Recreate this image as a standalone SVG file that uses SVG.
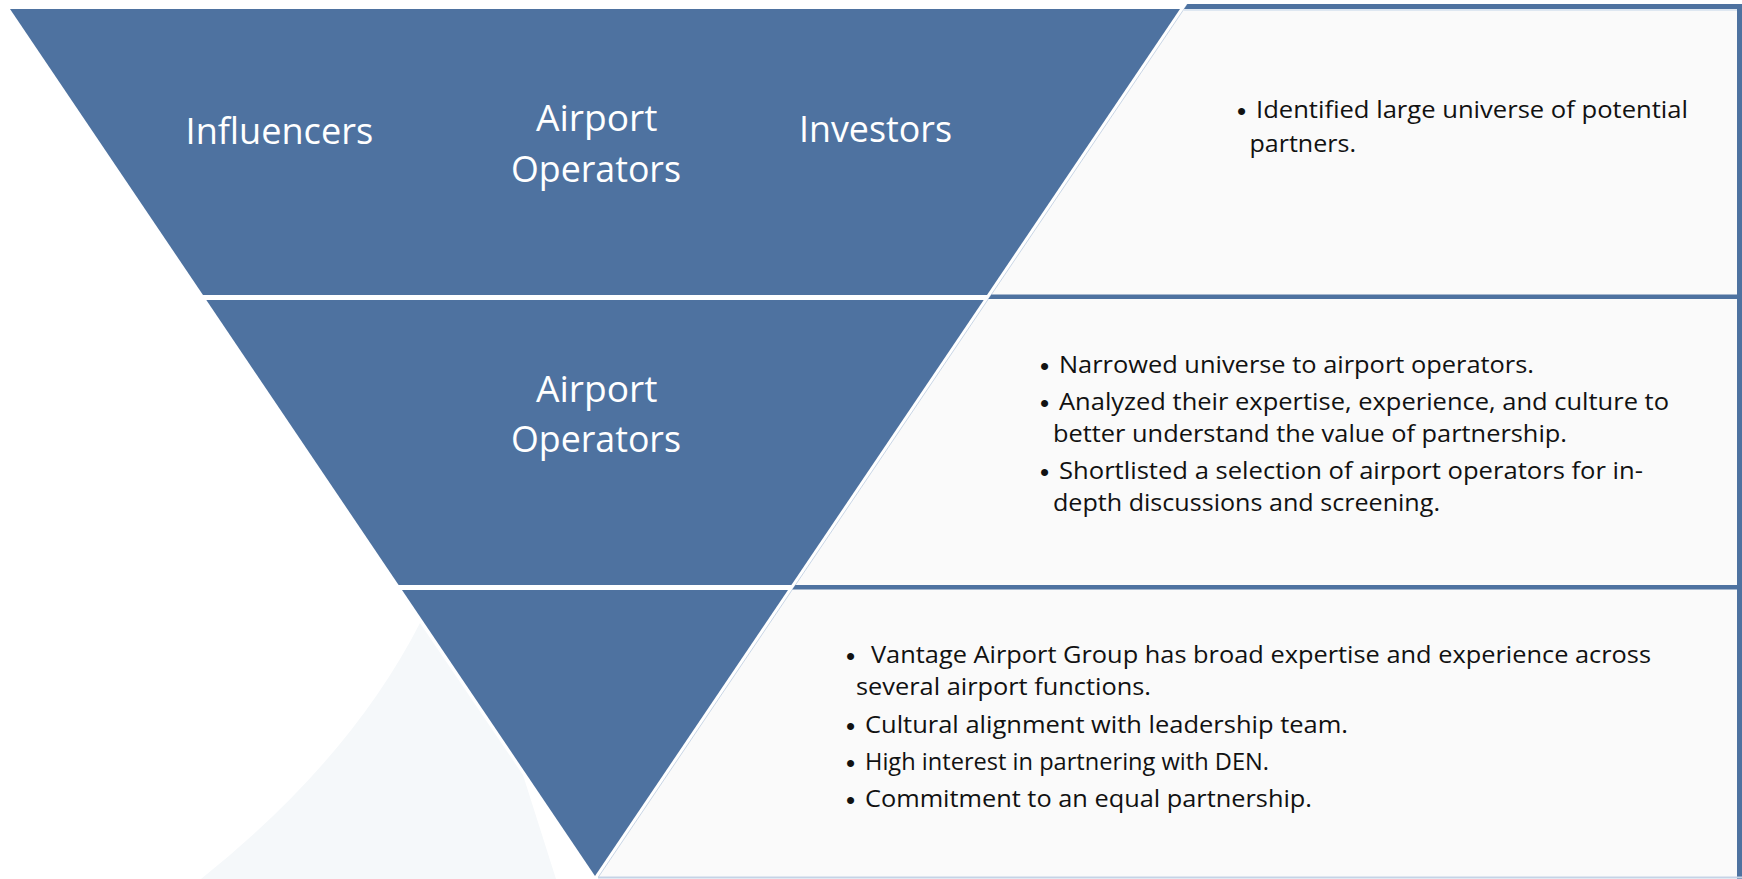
<svg xmlns="http://www.w3.org/2000/svg" width="1742" height="879" viewBox="0 0 1742 879">
  <style>
    .band { fill: #4e72a0; }
    .blue { fill: #4e72a0; }
    .title { font-family: "Open Sans", "Liberation Sans", sans-serif; font-size: 36px; fill: #ffffff; }
    .body { font-family: "Open Sans", "Liberation Sans", sans-serif; font-size: 24px; fill: #111111; }
    .bul { font-family: "Liberation Sans", sans-serif; font-size: 26px; fill: #111111; }
  </style>
  <rect x="0" y="0" width="1742" height="879" fill="#ffffff"/>
  <path d="M201,879 Q350,760 420,623 L523,775 L556,879 Z" fill="#f5f8fa"/>

  <g id="panels">
    <polygon points="1187.4,4 1742,4 1742,877 598.4,877" fill="#fafafa"/>
    <line x1="1187.4" y1="4" x2="598.4" y2="877" stroke="#c9d6e6" stroke-width="1"/>
    <polygon class="blue" points="1187.4,4 1742,4 1742,9 1184,9"/>
    <line x1="1184" y1="10" x2="1737" y2="10" stroke="#d5e0ee" stroke-width="1.5"/>
    <polygon class="blue" points="991.4,294.5 1742,294.5 1742,299 988.3,299"/>
    <polygon class="blue" points="795.4,585 1742,585 1742,589.5 792.3,589.5"/>
    <rect class="blue" x="1737" y="4" width="5" height="875"/>
    <line x1="598" y1="877.5" x2="1742" y2="877.5" stroke="#c5d3e6" stroke-width="2"/>
  </g>

  <g id="band1">
    <polygon class="band" points="10,9 1180,9 987,295 203,295"/>
    <text class="title" x="185.6" y="144" textLength="187.5" lengthAdjust="spacingAndGlyphs">Influencers</text>
    <text class="title" x="536" y="131" textLength="121.5" lengthAdjust="spacingAndGlyphs">Airport</text>
    <text class="title" x="511" y="182" textLength="170" lengthAdjust="spacingAndGlyphs">Operators</text>
    <text class="title" x="799" y="142" textLength="153" lengthAdjust="spacingAndGlyphs">Investors</text>
  </g>
  <g id="band2">
    <polygon class="band" points="206.3,300 983.7,300 791.4,585 398.6,585"/>
    <text class="title" x="536" y="402" textLength="121.5" lengthAdjust="spacingAndGlyphs">Airport</text>
    <text class="title" x="511" y="452" textLength="170" lengthAdjust="spacingAndGlyphs">Operators</text>
  </g>
  <g id="band3">
    <polygon class="band" points="402,590 788,590 595,876"/>
  </g>

  <g id="text1">
    <text class="bul" x="1237" y="120">•</text>
    <text class="body" x="1256" y="118" textLength="432" lengthAdjust="spacingAndGlyphs">Identified large universe of potential</text>
    <text class="body" x="1249.5" y="152" textLength="106.5" lengthAdjust="spacingAndGlyphs">partners.</text>
  </g>
  <g id="text2">
    <text class="bul" x="1040" y="375">•</text>
    <text class="body" x="1059" y="373" textLength="475" lengthAdjust="spacingAndGlyphs">Narrowed universe to airport operators.</text>
    <text class="bul" x="1040" y="412">•</text>
    <text class="body" x="1059" y="410" textLength="610" lengthAdjust="spacingAndGlyphs">Analyzed their expertise, experience, and culture to</text>
    <text class="body" x="1053" y="442" textLength="514" lengthAdjust="spacingAndGlyphs">better understand the value of partnership.</text>
    <text class="bul" x="1040" y="481">•</text>
    <text class="body" x="1059" y="479" textLength="584" lengthAdjust="spacingAndGlyphs">Shortlisted a selection of airport operators for in-</text>
    <text class="body" x="1053" y="511" textLength="387" lengthAdjust="spacingAndGlyphs">depth discussions and screening.</text>
  </g>
  <g id="text3">
    <text class="bul" x="846" y="665">•</text>
    <text class="body" x="871" y="663" textLength="780" lengthAdjust="spacingAndGlyphs">Vantage Airport Group has broad expertise and experience across</text>
    <text class="body" x="856" y="695" textLength="295" lengthAdjust="spacingAndGlyphs">several airport functions.</text>
    <text class="bul" x="846" y="735">•</text>
    <text class="body" x="865" y="733" textLength="483" lengthAdjust="spacingAndGlyphs">Cultural alignment with leadership team.</text>
    <text class="bul" x="846" y="772">•</text>
    <text class="body" x="865" y="770" textLength="404" lengthAdjust="spacingAndGlyphs">High interest in partnering with DEN.</text>
    <text class="bul" x="846" y="809">•</text>
    <text class="body" x="865" y="807" textLength="447" lengthAdjust="spacingAndGlyphs">Commitment to an equal partnership.</text>
  </g>
</svg>
